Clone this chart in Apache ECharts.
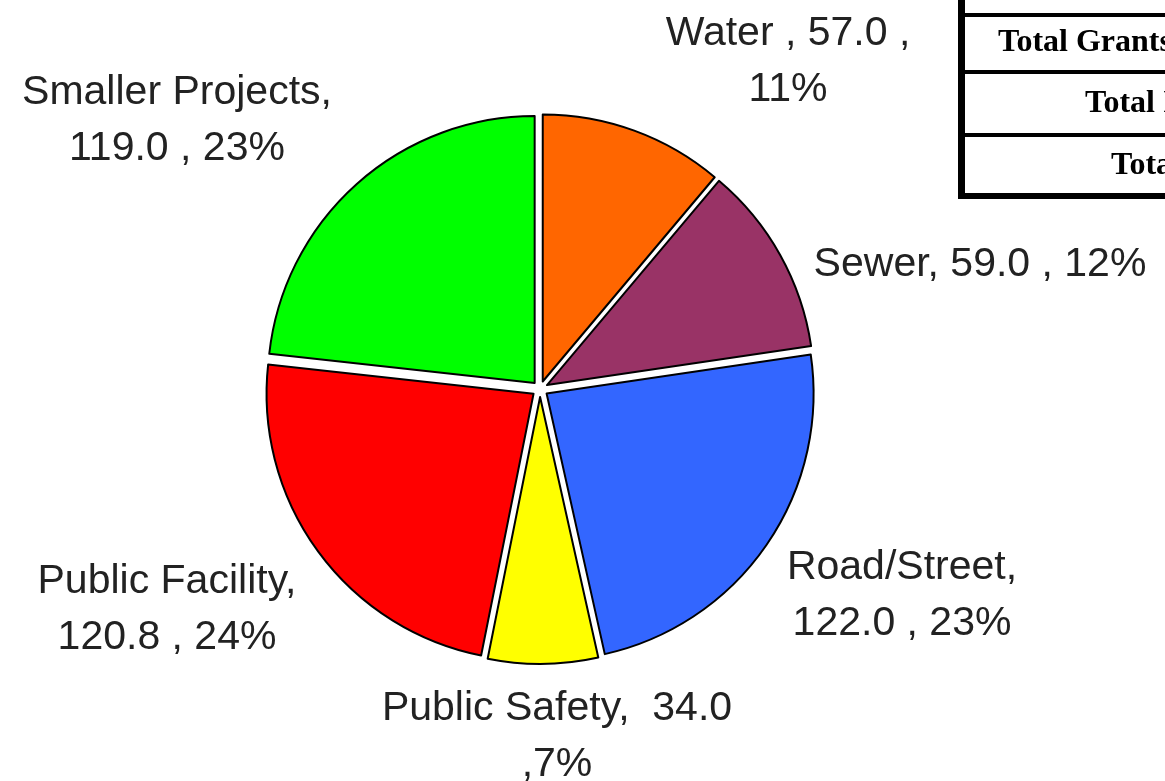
<!DOCTYPE html>
<html>
<head>
<meta charset="utf-8">
<script src="https://cdn.jsdelivr.net/npm/echarts@6/dist/echarts.min.js"></script>
<style>
html,body{margin:0;padding:0;background:#fff;}
#chart{width:1165px;height:781px;}
</style>
</head>
<body>
<div id="chart"></div>
<script>
// ---- data ----
const categories = ['Water', 'Sewer', 'Road/Street', 'Public Safety', 'Public Facility', 'Smaller Projects'];
const values = [57.0, 59.0, 122.0, 34.0, 120.8, 119.0];
const percents = [11, 12, 23, 7, 24, 23];
const colors = ['#FF6600', '#993366', '#3366FF', '#FFFF00', '#FF0000', '#00FF00'];
const labelTemplates = [
  '{n} , {v} ,\n{p}%',
  '{n}, {v} , {p}%',
  '{n},\n{v} , {p}%',
  '{n},  {v}\n,{p}%',
  '{n},\n{v} , {p}%',
  '{n},\n{v} , {p}%'
];
const tableRows = ['Total Grants Awarded', 'Total Investment', 'Total Projects'];

// ---- layout ----
const labelPos = [[788, 62], [980, 265], [902, 596], [557, 737], [167, 610], [177, 121]];
const tableTextX = [998, 1085, 1111];
const tableTextY = [43, 104, 166];

const chart = echarts.init(document.getElementById('chart'), null, {renderer: 'canvas'});

const data = categories.map((c, i) => ({
  name: c,
  value: values[i],
  selected: true,
  itemStyle: {color: colors[i]}
}));

const labelText = i => labelTemplates[i]
  .replace('{n}', categories[i])
  .replace('{v}', values[i].toFixed(1))
  .replace('{p}', percents[i]);

const graphics = [
  {type: 'rect', shape: {x: 958, y: 0, width: 7, height: 199}, style: {fill: '#000'}},
  {type: 'rect', shape: {x: 958, y: 193, width: 207, height: 6}, style: {fill: '#000'}},
  {type: 'rect', shape: {x: 958, y: 13, width: 207, height: 4}, style: {fill: '#000'}},
  {type: 'rect', shape: {x: 958, y: 70, width: 207, height: 4}, style: {fill: '#000'}},
  {type: 'rect', shape: {x: 958, y: 133, width: 207, height: 4}, style: {fill: '#000'}}
];
tableRows.forEach((t, i) => {
  graphics.push({
    type: 'text',
    x: tableTextX[i], y: tableTextY[i],
    style: {
      text: t,
      font: 'bold 32px "Liberation Serif", "Times New Roman", serif',
      fill: '#000',
      verticalAlign: 'middle',
      align: 'left'
    }
  });
});
categories.forEach((c, i) => {
  graphics.push({
    type: 'text',
    x: labelPos[i][0], y: labelPos[i][1],
    style: {
      text: labelText(i),
      font: '41px "Liberation Sans", Arial, sans-serif',
      lineHeight: 56,
      fill: '#222',
      align: 'center',
      verticalAlign: 'middle'
    }
  });
});

chart.setOption({
  backgroundColor: '#fff',
  animation: false,
  graphic: graphics,
  series: [{
    type: 'pie',
    center: [540, 389],
    radius: [0, 267],
    startAngle: 90,
    clockwise: true,
    selectedMode: 'multiple',
    selectedOffset: 8,
    emphasis: {disabled: true},
    select: {itemStyle: {borderColor: '#000', borderWidth: 2}},
    itemStyle: {borderColor: '#000', borderWidth: 2},
    label: {show: false},
    labelLine: {show: false},
    data: data
  }]
});
</script>
</body>
</html>
